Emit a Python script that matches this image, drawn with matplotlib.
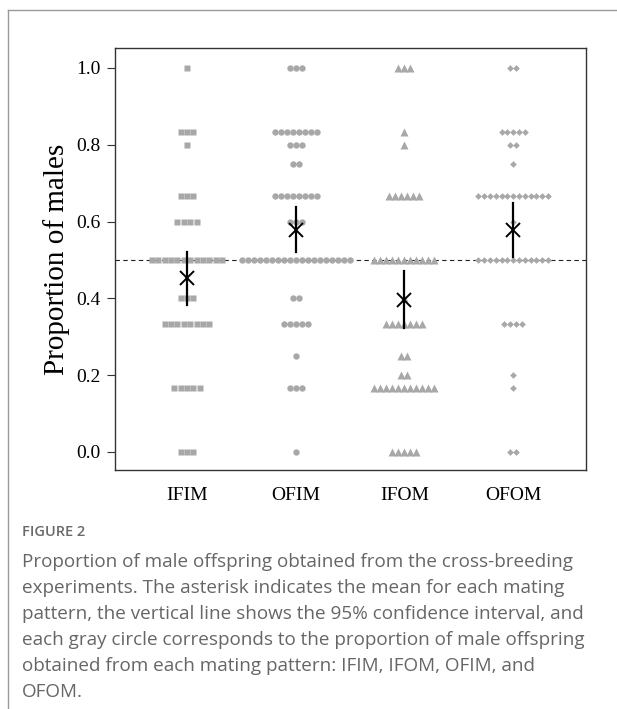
import numpy as np
import matplotlib
matplotlib.use("Agg")
import matplotlib.pyplot as plt
from matplotlib.lines import Line2D

# ---------------- data ----------------
groups = ["IFIM", "OFIM", "IFOM", "OFOM"]

ifim_levels = [1.0, 0.8333, 0.8, 0.6667, 0.6, 0.5, 0.4, 0.3333, 0.1667, 0.0]
ifim_counts = [1, 3, 1, 3, 4, 12, 3, 8, 5, 3]

ofim_levels = [1.0, 0.8333, 0.8, 0.75, 0.6667, 0.6, 0.5, 0.4, 0.3333, 0.25, 0.1667, 0.0]
ofim_counts = [3, 8, 3, 2, 8, 3, 19, 2, 5, 1, 3, 1]

ifom_levels = [1.0, 0.8333, 0.8, 0.6667, 0.5, 0.4, 0.3333, 0.25, 0.2, 0.1667, 0.0]
ifom_counts = [3, 1, 1, 6, 11, 1, 7, 2, 2, 11, 5]

ofom_levels = [1.0, 0.8333, 0.8, 0.75, 0.6667, 0.6, 0.5, 0.3333, 0.2, 0.1667, 0.0]
ofom_counts = [2, 5, 2, 1, 13, 1, 13, 4, 1, 1, 2]

means = [0.453, 0.578, 0.396, 0.578]
ci_low = [0.383, 0.521, 0.323, 0.508]
ci_high = [0.521, 0.638, 0.471, 0.648]

reference_line = 0.5
yticks = [0.0, 0.2, 0.4, 0.6, 0.8, 1.0]
ylabel = "Proportion of males"

fig_label = "FIGURE 2"
caption_lines = [
    "Proportion of male offspring obtained from the cross-breeding",
    "experiments. The asterisk indicates the mean for each mating",
    "pattern, the vertical line shows the 95% confidence interval, and",
    "each gray circle corresponds to the proportion of male offspring",
    "obtained from each mating pattern: IFIM, IFOM, OFIM, and",
    "OFOM.",
]

# ---------------- figure ----------------
W, H = 617, 709
fig = plt.figure(figsize=(W / 100, H / 100), dpi=100)

def fx(px):
    return px / W

def fy(py):
    return 1 - py / H

# page frame lines (top and left)
fig.add_artist(Line2D([fx(8), 1.0], [fy(10), fy(10)], color="#9a9a9a", lw=1.0))
fig.add_artist(Line2D([fx(8), fx(8)], [fy(10), 0.0], color="#9a9a9a", lw=1.0))

ax_left, ax_right, ax_top, ax_bot = 115, 586, 48, 470
ax = fig.add_axes([fx(ax_left), fy(ax_bot), fx(ax_right - ax_left), (ax_bot - ax_top) / H])

serif = ["Liberation Serif", "DejaVu Serif"]
grey = "#a8a8a8"

xpos = np.arange(1, len(groups) + 1)
ax.set_xlim(0.337, 4.67)
ax.set_ylim(-0.047, 1.052)

unit_px = 108.7  # pixels per x unit
styles = [
    dict(marker="s", ms=4.5, spacing=6.4),
    dict(marker="o", ms=4.6, spacing=6.0),
    dict(marker="^", ms=5.2, spacing=6.0),
    dict(marker="D", ms=3.4, spacing=5.8),
]
level_sets = [(ifim_levels, ifim_counts), (ofim_levels, ofim_counts),
              (ifom_levels, ifom_counts), (ofom_levels, ofom_counts)]

ax.axhline(reference_line, color="#222222", lw=0.8, ls=(0, (4, 3)), zorder=1)

for xc, (levels, counts), st in zip(xpos, level_sets, styles):
    xs, ys = [], []
    step = st["spacing"] / unit_px
    for lv, n in zip(levels, counts):
        offs = (np.arange(n) - (n - 1) / 2.0) * step
        xs.extend(xc + offs)
        ys.extend([lv] * n)
    ax.plot(xs, ys, ls="none", marker=st["marker"], ms=st["ms"],
            color=grey, mec="none", zorder=2)

for xc, m, lo, hi in zip(xpos, means, ci_low, ci_high):
    ax.plot([xc, xc], [lo, hi], color="black", lw=1.6, zorder=3)
    ax.plot([xc], [m], marker="x", ms=10, mew=1.4, color="black", zorder=4)

ax.set_xticks(xpos)
ax.set_xticklabels(groups, fontfamily=serif, fontsize=14)
ax.set_yticks(yticks)
ax.set_yticklabels([f"{v:.1f}" for v in yticks], fontfamily=serif, fontsize=14)
ax.tick_params(axis="x", length=0, pad=12)
ax.tick_params(axis="y", length=5.5, width=0.8, pad=5, color="#333333")
for sp in ax.spines.values():
    sp.set_color("#333333")
    sp.set_linewidth(1.0)

ax.set_ylabel(ylabel, fontfamily=serif, fontsize=21)
ax.yaxis.set_label_coords(-0.095, 0.5)

# caption
fig.text(fx(22), fy(532), fig_label, fontfamily="Open Sans", fontsize=10.5,
         fontweight="semibold", color="#6a6a6a", va="center", ha="left")
for i, line in enumerate(caption_lines):
    fig.text(fx(22), fy(562 + 26 * i), line, fontfamily="Open Sans", fontsize=13.6,
             color="#666666", va="center", ha="left")

fig.savefig("out.png", dpi=100)
